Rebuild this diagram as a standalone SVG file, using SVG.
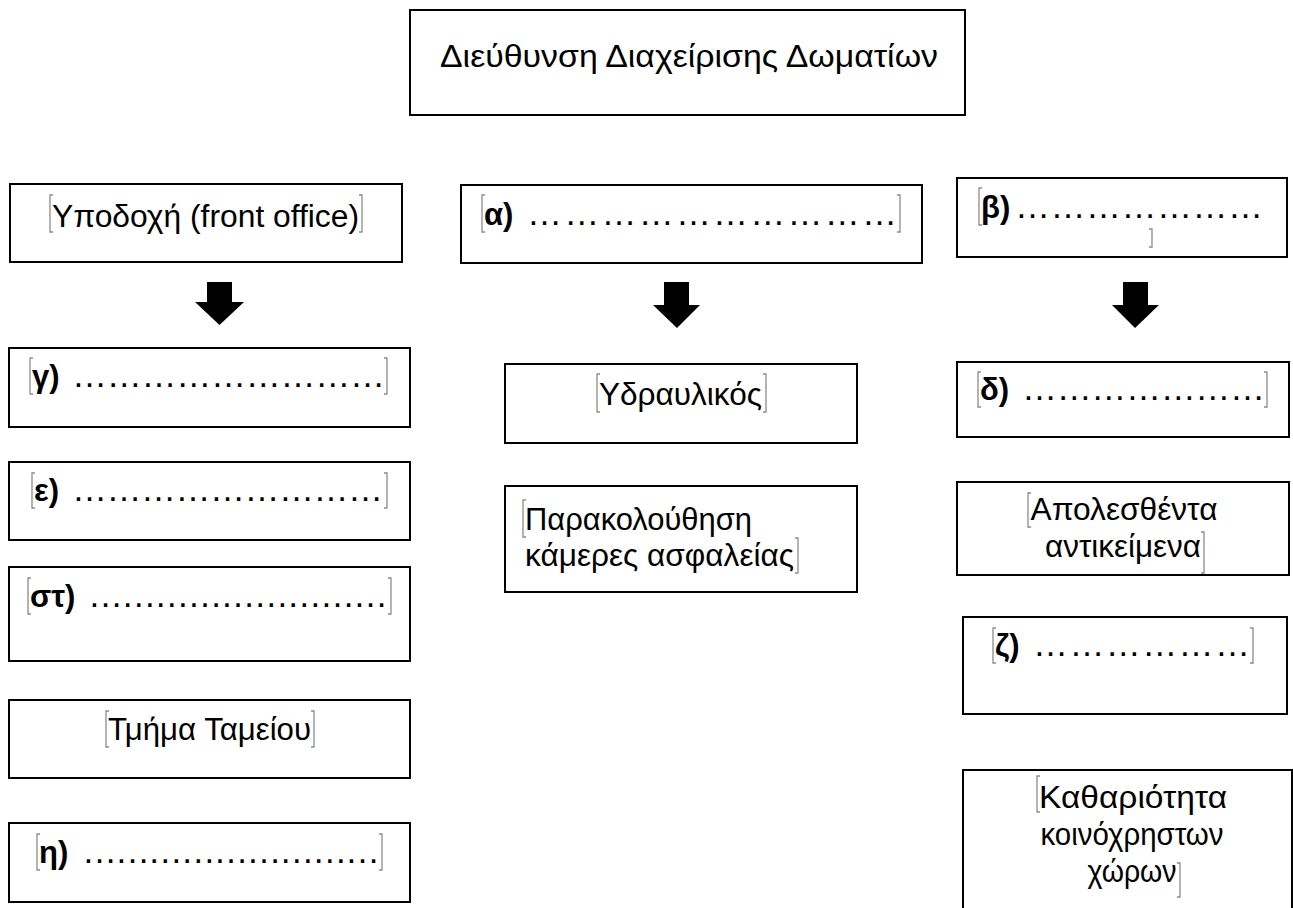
<svg xmlns="http://www.w3.org/2000/svg" width="1293" height="908" viewBox="0 0 1293 908">
<style>
.box{fill:#fff;stroke:#000;stroke-width:2}
.t{font-family:"Liberation Sans",Arial,sans-serif;font-size:31px;fill:#000}
.b{font-weight:bold}
.d{font-family:"Liberation Sans",Arial,sans-serif;font-size:35px;fill:#000}
.br{fill:none;stroke:#8c8c8c;stroke-width:1.3}
.arr{fill:#000}
</style>
<rect width="1293" height="908" fill="#fff"/>
<g id="connectors">
<polygon class="arr" points="207,282 232,282 232,302 244,302 219.5,325 195,302 207,302"/>
<polygon class="arr" points="664,282 689,282 689,305 700,305 677,328 653,305 664,305"/>
<polygon class="arr" points="1123,282 1148,282 1148,305 1159,305 1135,328 1112,305 1123,305"/>
</g>
<g id="n-title">
<rect class="box" x="410" y="10" width="555" height="105"/>
<text class="t" x="440" y="67" font-size="32" textLength="498" lengthAdjust="spacingAndGlyphs">Διεύθυνση Διαχείρισης Δωματίων</text>
</g>
<g id="n-front">
<rect class="box" x="10" y="184" width="392" height="78"/>
<path class="br" d="M53,195 h-3 v37 h3 M359,195 h3 v37 h-3"/>
<text class="t" x="52" y="227" textLength="307" lengthAdjust="spacingAndGlyphs">Υποδοχή (front office)</text>
</g>
<g id="n-a">
<rect class="box" x="461" y="185" width="461" height="78"/>
<path class="br" d="M485,195 h-3 v37 h3 M897,195 h3 v37 h-3"/>
<text class="t b" x="484" y="225">α)</text>
<text class="d" x="527" y="225" font-size="37" textLength="370" lengthAdjust="spacing">…………………………</text>
</g>
<g id="n-b">
<rect class="box" x="957" y="178" width="330" height="79"/>
<path class="br" d="M982,188 h-3 v37 h3 M1149,229 h3 v18 h-3"/>
<text class="t b" x="981" y="218">β)</text>
<text class="d" x="1015" y="218" font-size="35.4" textLength="248" lengthAdjust="spacing">…………………</text>
</g>
<g id="n-g">
<rect class="box" x="9" y="348" width="401" height="79"/>
<path class="br" d="M33,358 h-3 v36 h3 M384,358 h3 v36 h-3"/>
<text class="t b" x="32" y="387">γ)</text>
<text class="d" x="72" y="387" font-size="34.8" textLength="313" lengthAdjust="spacing">………………………</text>
</g>
<g id="n-e">
<rect class="box" x="9" y="462" width="401" height="78"/>
<path class="br" d="M35,473 h-3 v35 h3 M384,473 h3 v35 h-3"/>
<text class="t b" x="34" y="501">ε)</text>
<text class="d" x="72" y="501" font-size="34.6" textLength="311" lengthAdjust="spacing">………………………</text>
</g>
<g id="n-st">
<rect class="box" x="9" y="567" width="401" height="94"/>
<path class="br" d="M31,578 h-3 v36 h3 M388,578 h3 v36 h-3"/>
<text class="t b" x="30" y="607">στ)</text>
<text class="d" x="88" y="607" font-size="33.3" textLength="300" lengthAdjust="spacing">………………………</text>
</g>
<g id="n-tameio">
<rect class="box" x="9" y="700" width="401" height="78"/>
<path class="br" d="M109,711 h-3 v36 h3 M311,711 h3 v36 h-3"/>
<text class="t" x="108" y="740" textLength="203" lengthAdjust="spacingAndGlyphs">Τμήμα Ταμείου</text>
</g>
<g id="n-h">
<rect class="box" x="9" y="823" width="401" height="79"/>
<path class="br" d="M40,834 h-3 v36 h3 M379,834 h3 v36 h-3"/>
<text class="t b" x="39" y="863">η)</text>
<text class="d" x="82" y="863" font-size="33.1" textLength="298" lengthAdjust="spacing">………………………</text>
</g>
<g id="n-ydraulikos">
<rect class="box" x="505" y="364" width="352" height="79"/>
<path class="br" d="M600,374 h-3 v38 h3 M763,374 h3 v38 h-3"/>
<text class="t" x="599" y="405" textLength="163" lengthAdjust="spacingAndGlyphs">Υδραυλικός</text>
</g>
<g id="n-cameras">
<rect class="box" x="505" y="486" width="352" height="106"/>
<path class="br" d="M526,500 h-3 v37 h3 M795,538 h3 v35 h-3"/>
<text class="t" x="525" y="530" textLength="227" lengthAdjust="spacingAndGlyphs">Παρακολούθηση</text>
<text class="t" x="525" y="566" textLength="269" lengthAdjust="spacingAndGlyphs">κάμερες ασφαλείας</text>
</g>
<g id="n-d">
<rect class="box" x="957" y="362" width="332" height="75"/>
<path class="br" d="M981,372 h-3 v35 h3 M1264,372 h3 v35 h-3"/>
<text class="t b" x="980" y="400">δ)</text>
<text class="d" x="1022" y="400" font-size="34.7" textLength="243" lengthAdjust="spacing">…………………</text>
</g>
<g id="n-lost">
<rect class="box" x="957" y="482" width="332" height="93"/>
<path class="br" d="M1031,493 h-3 v34 h3 M1201,532 h3 v41 h-3"/>
<text class="t" x="1124" y="520" text-anchor="middle" textLength="187" lengthAdjust="spacingAndGlyphs">Απολεσθέντα</text>
<text class="t" x="1123" y="557" text-anchor="middle" textLength="156" lengthAdjust="spacingAndGlyphs">αντικείμενα</text>
</g>
<g id="n-z">
<rect class="box" x="963" y="617" width="324" height="97"/>
<path class="br" d="M996,628 h-3 v35 h3 M1250,628 h3 v35 h-3"/>
<text class="t b" x="995" y="656">ζ)</text>
<text class="d" x="1033" y="656" font-size="36.2" textLength="217" lengthAdjust="spacing">………………</text>
</g>
<g id="n-clean">
<rect class="box" x="963" y="770" width="329" height="160"/>
<path class="br" d="M1040,776 h-3 v36 h3 M1177,863 h3 v34 h-3"/>
<text class="t" x="1133" y="808" text-anchor="middle" textLength="188" lengthAdjust="spacingAndGlyphs">Καθαριότητα</text>
<text class="t" x="1132" y="845" text-anchor="middle" textLength="183" lengthAdjust="spacingAndGlyphs">κοινόχρηστων</text>
<text class="t" x="1132" y="882" text-anchor="middle" textLength="89" lengthAdjust="spacingAndGlyphs">χώρων</text>
</g>
</svg>
